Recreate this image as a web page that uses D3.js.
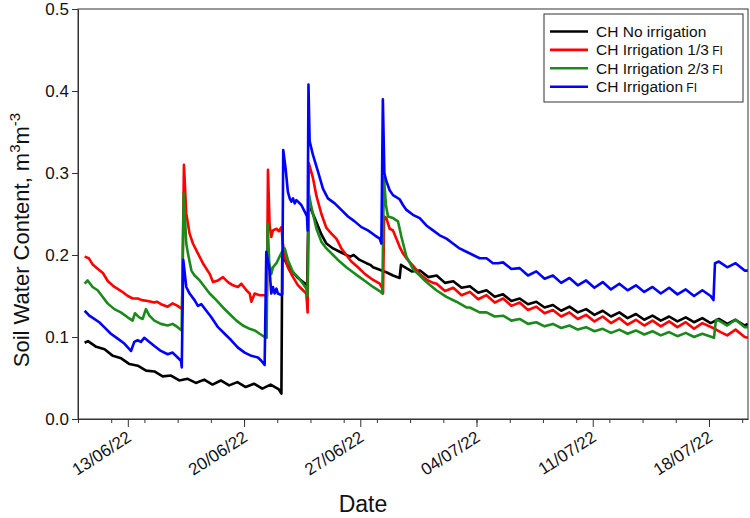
<!DOCTYPE html>
<html><head><meta charset="utf-8">
<script src="https://cdn.jsdelivr.net/npm/d3@7"></script>
<style>
html,body{margin:0;padding:0;background:#fff;}
svg{display:block;font-family:"Liberation Sans",Arial,sans-serif;}
</style></head><body>
<svg id="chart" width="750" height="518"></svg>
<script>
// ---- data (day offset from start date, soil water content m3/m3) ----
const startDate = "2022-06-10";
const endDay = 40.35;
const seriesNames = ["CH No irrigation", "CH Irrigation 1/3", "CH Irrigation 2/3", "CH Irrigation"];
const seriesSuffix = ["", "FI", "FI", "FI"];
const majorTickLabels = ["13/06/22", "20/06/22", "27/06/22", "04/07/22", "11/07/22", "18/07/22"];
const yTicks = [0, 0.1, 0.2, 0.3, 0.4, 0.5];

const noIrrigation = [
[0.40,0.093],[0.60,0.095],[1.10,0.088],[1.60,0.085],[2.10,0.077],[2.60,0.074],[3.10,0.067],[3.60,0.065],[4.10,0.059],[4.60,0.058],[5.10,0.052],[5.60,0.053],[6.10,0.047],[6.60,0.049],[7.10,0.044],[7.60,0.048],[8.10,0.042],[8.60,0.047],[9.10,0.041],[9.60,0.045],[10.10,0.039],[10.60,0.043],[11.10,0.037],[11.60,0.042],[12.10,0.036],[12.25,0.031],
[12.30,0.200],[12.40,0.196],[12.60,0.188],[12.90,0.180],[13.20,0.173],[13.50,0.168],[13.80,0.163],
[13.88,0.258],[14.05,0.255],[14.36,0.240],[14.66,0.225],[14.96,0.214],[15.36,0.208],[15.76,0.204],[16.16,0.200],[16.40,0.198],[16.60,0.200],[16.96,0.194],[17.37,0.190],[17.60,0.188],[17.77,0.185],[18.17,0.182],[18.57,0.179],[18.97,0.175],[19.37,0.172],[19.45,0.188],[19.70,0.185],[20.10,0.180],[20.60,0.181],[21.10,0.173],[21.60,0.175],[22.10,0.166],[22.60,0.168],[23.10,0.160],[23.60,0.162],[24.10,0.154],[24.60,0.157],[25.10,0.149],[25.60,0.152],[26.10,0.144],[26.60,0.147],[27.10,0.140],[27.60,0.143],[28.10,0.136],[28.60,0.139],[29.10,0.132],[29.60,0.137],[30.10,0.130],[30.60,0.134],[31.10,0.127],[31.60,0.132],[32.10,0.125],[32.60,0.130],[33.10,0.123],[33.60,0.128],[34.10,0.121],[34.60,0.126],[35.10,0.120],[35.60,0.125],[36.10,0.119],[36.60,0.124],[37.10,0.118],[37.60,0.123],[38.10,0.117],[38.60,0.122],[39.10,0.116],[39.60,0.121],[40.15,0.114],[40.34,0.116]
];

const irrigationThird = [
[0.40,0.198],[0.65,0.196],[0.90,0.188],[1.20,0.183],[1.50,0.178],[1.80,0.168],[2.20,0.161],[2.60,0.156],[3.00,0.150],[3.30,0.147],[3.60,0.147],[3.85,0.145],[4.20,0.144],[4.60,0.142],[4.75,0.143],[5.00,0.140],[5.40,0.137],[5.70,0.141],[6.00,0.138],[6.27,0.134],
[6.38,0.310],[6.52,0.251],[6.72,0.226],[6.92,0.214],[7.22,0.202],[7.52,0.190],[7.93,0.177],[8.13,0.167],[8.43,0.169],[8.73,0.173],[9.03,0.167],[9.33,0.163],[9.63,0.161],[9.84,0.165],[10.14,0.157],[10.34,0.153],[10.44,0.143],[10.64,0.153],[10.94,0.151],[11.24,0.151],[11.38,0.150],
[11.44,0.304],[11.54,0.236],[11.64,0.222],[11.74,0.230],[11.95,0.232],[12.10,0.229],[12.25,0.234],[12.33,0.215],[12.45,0.198],[12.64,0.185],[12.95,0.173],[13.25,0.163],[13.55,0.157],[13.75,0.153],[13.83,0.130],
[13.90,0.312],[14.15,0.294],[14.36,0.272],[14.66,0.250],[14.96,0.233],[15.26,0.226],[15.56,0.220],[15.86,0.208],[16.16,0.200],[16.46,0.192],[16.86,0.185],[17.27,0.177],[17.67,0.171],[18.17,0.165],[18.31,0.160],[18.37,0.153],
[18.44,0.247],[18.57,0.245],[18.77,0.232],[18.97,0.230],[19.17,0.220],[19.37,0.210],[19.57,0.202],[19.78,0.196],[20.17,0.187],[20.58,0.177],[20.98,0.170],[21.38,0.166],[21.60,0.165],[22.10,0.156],[22.60,0.160],[23.10,0.151],[23.60,0.155],[24.10,0.146],[24.60,0.151],[25.10,0.142],[25.60,0.147],[26.10,0.138],[26.60,0.142],[27.10,0.133],[27.60,0.137],[28.10,0.129],[28.60,0.133],[29.10,0.125],[29.60,0.130],[30.10,0.122],[30.60,0.127],[31.10,0.119],[31.60,0.125],[32.10,0.117],[32.60,0.123],[33.10,0.115],[33.60,0.121],[34.10,0.114],[34.60,0.120],[35.10,0.113],[35.60,0.119],[36.10,0.112],[36.60,0.118],[37.10,0.110],[37.60,0.117],[38.35,0.110],[38.70,0.106],[39.10,0.102],[39.60,0.109],[40.15,0.100],[40.34,0.099]
];

const irrigationTwoThirds = [
[0.40,0.165],[0.58,0.169],[0.88,0.161],[1.18,0.157],[1.48,0.149],[1.78,0.141],[2.19,0.134],[2.58,0.130],[2.99,0.124],[3.29,0.120],[3.43,0.129],[3.69,0.124],[3.89,0.122],[4.09,0.134],[4.30,0.126],[4.60,0.120],[4.99,0.116],[5.40,0.114],[5.70,0.116],[6.00,0.112],[6.24,0.108],
[6.37,0.275],[6.52,0.214],[6.62,0.202],[6.83,0.181],[7.02,0.175],[7.33,0.169],[7.63,0.161],[7.93,0.153],[8.33,0.145],[8.73,0.136],[9.13,0.128],[9.54,0.120],[9.93,0.114],[10.34,0.110],[10.64,0.108],[10.94,0.104],[11.24,0.100],[11.36,0.099],
[11.42,0.238],[11.52,0.190],[11.64,0.177],[11.74,0.185],[11.95,0.190],[12.14,0.198],[12.34,0.206],[12.45,0.208],[12.64,0.194],[12.95,0.179],[13.25,0.173],[13.55,0.165],[13.75,0.159],[13.82,0.150],
[13.90,0.275],[14.05,0.259],[14.36,0.232],[14.66,0.216],[14.96,0.208],[15.36,0.200],[15.76,0.192],[16.16,0.185],[16.56,0.179],[16.96,0.173],[17.37,0.167],[17.77,0.161],[18.17,0.156],[18.33,0.153],
[18.42,0.295],[18.55,0.260],[18.67,0.247],[18.97,0.245],[19.27,0.241],[19.48,0.222],[19.78,0.198],[20.17,0.183],[20.58,0.175],[20.98,0.167],[21.58,0.157],[22.19,0.149],[22.79,0.143],[23.39,0.136],[23.60,0.136],[24.19,0.130],[24.60,0.130],[25.10,0.125],[25.60,0.126],[26.10,0.120],[26.60,0.122],[27.10,0.116],[27.60,0.118],[28.10,0.113],[28.60,0.116],[29.10,0.111],[29.60,0.114],[30.10,0.109],[30.60,0.112],[31.10,0.107],[31.60,0.110],[32.10,0.105],[32.60,0.109],[33.10,0.104],[33.60,0.108],[34.10,0.103],[34.60,0.107],[35.10,0.102],[35.60,0.106],[36.10,0.101],[36.60,0.105],[37.10,0.100],[37.60,0.104],[38.30,0.099],
[38.42,0.121],[38.60,0.120],[39.10,0.114],[39.60,0.121],[40.15,0.112],[40.34,0.112]
];

const irrigationFull = [
[0.40,0.132],[0.68,0.126],[0.98,0.122],[1.28,0.118],[1.58,0.112],[1.98,0.104],[2.39,0.098],[2.79,0.092],[3.19,0.083],[3.39,0.094],[3.59,0.096],[3.79,0.094],[3.99,0.099],[4.30,0.094],[4.60,0.089],[4.99,0.083],[5.40,0.079],[5.70,0.081],[6.00,0.075],[6.20,0.071],[6.25,0.063],
[6.34,0.194],[6.52,0.161],[6.72,0.153],[7.02,0.145],[7.22,0.138],[7.43,0.140],[7.73,0.132],[8.03,0.124],[8.43,0.112],[8.83,0.104],[9.23,0.096],[9.63,0.087],[10.04,0.081],[10.44,0.077],[10.84,0.075],[11.04,0.071],[11.24,0.066],
[11.34,0.204],[11.54,0.181],[11.64,0.153],[11.74,0.161],[11.84,0.153],[11.95,0.159],[12.04,0.153],[12.25,0.151],[12.30,0.152],
[12.36,0.328],[12.50,0.306],[12.64,0.277],[12.75,0.269],[12.85,0.265],[12.95,0.269],[13.05,0.263],[13.15,0.267],[13.25,0.265],[13.45,0.261],[13.65,0.253],[13.79,0.247],[13.83,0.230],
[13.88,0.408],[13.95,0.339],[14.15,0.322],[14.45,0.302],[14.75,0.281],[15.05,0.269],[15.46,0.263],[15.86,0.255],[16.26,0.247],[16.66,0.241],[17.07,0.234],[17.46,0.230],[17.87,0.224],[18.17,0.220],[18.27,0.214],
[18.36,0.390],[18.45,0.300],[18.57,0.290],[18.77,0.279],[18.97,0.273],[19.37,0.268],[19.57,0.261],[19.78,0.255],[20.17,0.249],[20.58,0.245],[20.98,0.236],[21.38,0.230],[21.78,0.224],[22.19,0.220],[22.58,0.214],[22.98,0.208],[23.39,0.204],[23.79,0.200],[24.19,0.196],[24.60,0.196],[24.99,0.190],[25.30,0.190],[25.60,0.191],[26.10,0.183],[26.60,0.184],[27.10,0.175],[27.60,0.180],[28.10,0.171],[28.60,0.175],[29.10,0.166],[29.60,0.172],[30.10,0.163],[30.60,0.169],[31.10,0.160],[31.60,0.167],[32.10,0.158],[32.60,0.165],[33.10,0.157],[33.60,0.163],[34.10,0.155],[34.60,0.161],[35.10,0.153],[35.60,0.160],[36.10,0.152],[36.60,0.158],[37.10,0.150],[37.60,0.157],[38.10,0.150],[38.27,0.145],
[38.36,0.190],[38.60,0.192],[39.10,0.185],[39.60,0.190],[40.15,0.181],[40.34,0.181]
];

const seriesData = [noIrrigation, irrigationThird, irrigationTwoThirds, irrigationFull];
const seriesColors = ["#000000", "#ff0000", "#1a8a1a", "#0000ff"];

// ---- layout ----
const W = 750, H = 518;
const margin = {left: 78, right: 2, top: 9, bottom: 99};
const iw = W - margin.left - margin.right;
const ih = H - margin.top - margin.bottom;

const DAY = 86400000;
const t0 = Date.parse(startDate + "T00:00:00Z");
const toDate = d => new Date(t0 + d * DAY);
const parseTick = d3.utcParse("%d/%m/%y");

const svg = d3.select("#chart");
const g = svg.append("g").attr("transform", `translate(${margin.left},${margin.top})`);

const x = d3.scaleUtc().domain([toDate(0), toDate(endDay)]).range([0, iw]);
const y = d3.scaleLinear().domain([0, 0.5]).range([ih, 0]);

g.append("defs").append("clipPath").attr("id", "clip")
  .append("rect").attr("width", iw).attr("height", ih);

// lines
const line = d3.line().x(d => x(toDate(d[0]))).y(d => y(d[1]));
const lines = g.append("g").attr("clip-path", "url(#clip)");
seriesData.forEach((s, i) => {
  lines.append("path").datum(s)
    .attr("fill", "none").attr("stroke", seriesColors[i])
    .attr("stroke-width", 2.6).attr("stroke-linejoin", "round")
    .attr("d", line);
});

// frame
g.append("rect").attr("width", iw).attr("height", ih)
  .attr("fill", "none").attr("stroke", "#333").attr("stroke-width", 1);

// y axis
const yAxis = g.append("g").call(d3.axisLeft(y).tickValues(yTicks).tickFormat(d3.format(".1f")).tickSize(6).tickSizeOuter(0));
yAxis.select(".domain").attr("stroke", "#333");
yAxis.selectAll(".tick line").attr("stroke", "#333");
yAxis.selectAll(".tick text").attr("font-size", 17).attr("fill", "#111").attr("x", -9)
  .attr("font-family", "Liberation Sans, Arial, sans-serif");

// x axis minor ticks (every 2 days)
const minorDays = d3.range(0, 41, 2);
const xMinor = g.append("g").attr("transform", `translate(0,${ih})`)
  .call(d3.axisBottom(x).tickValues(minorDays.map(toDate)).tickSize(4).tickFormat("").tickSizeOuter(0));
xMinor.select(".domain").remove();
xMinor.selectAll(".tick line").attr("stroke", "#333");

// x axis major ticks
const xMajor = g.append("g").attr("transform", `translate(0,${ih})`)
  .call(d3.axisBottom(x).tickValues(majorTickLabels.map(parseTick)).tickSize(8)
    .tickFormat(d3.utcFormat("%d/%m/%y")).tickSizeOuter(0));
xMajor.select(".domain").attr("stroke", "#333");
xMajor.selectAll(".tick line").attr("stroke", "#333");
xMajor.selectAll(".tick text")
  .attr("font-size", 17).attr("fill", "#111")
  .attr("font-family", "Liberation Sans, Arial, sans-serif")
  .attr("text-anchor", "end")
  .attr("x", 0).attr("y", 0).attr("dy", "0.35em")
  .attr("transform", "translate(1,16) rotate(-33)");

// axis titles
svg.append("text").attr("x", 363).attr("y", 512)
  .attr("text-anchor", "middle").attr("font-size", 23).attr("fill", "#111").text("Date");

const yt = svg.append("text").attr("transform", `translate(29,240) rotate(-90)`)
  .attr("text-anchor", "middle").attr("font-size", 22).attr("fill", "#111");
yt.append("tspan").text("Soil Water Content, m");
yt.append("tspan").attr("font-size", 15).attr("dy", -9).text("3");
yt.append("tspan").attr("dy", 9).text("m");
yt.append("tspan").attr("font-size", 15).attr("dy", -9).text("-3");

// legend
const lg = svg.append("g").attr("transform", "translate(544,14)");
lg.append("rect").attr("width", 199).attr("height", 88)
  .attr("fill", "#fff").attr("stroke", "#333").attr("stroke-width", 1);
seriesNames.forEach((name, i) => {
  const ry = 17.5 + i * 18.4;
  lg.append("line").attr("x1", 6).attr("x2", 44).attr("y1", ry).attr("y2", ry)
    .attr("stroke", seriesColors[i]).attr("stroke-width", 2.6);
  const t = lg.append("text").attr("x", 52).attr("y", ry + 5.5).attr("font-size", 15.5).attr("fill", "#111");
  t.append("tspan").text(name);
  if (seriesSuffix[i]) t.append("tspan").attr("font-size", 12).text(" " + seriesSuffix[i]);
});
</script>
</body></html>
